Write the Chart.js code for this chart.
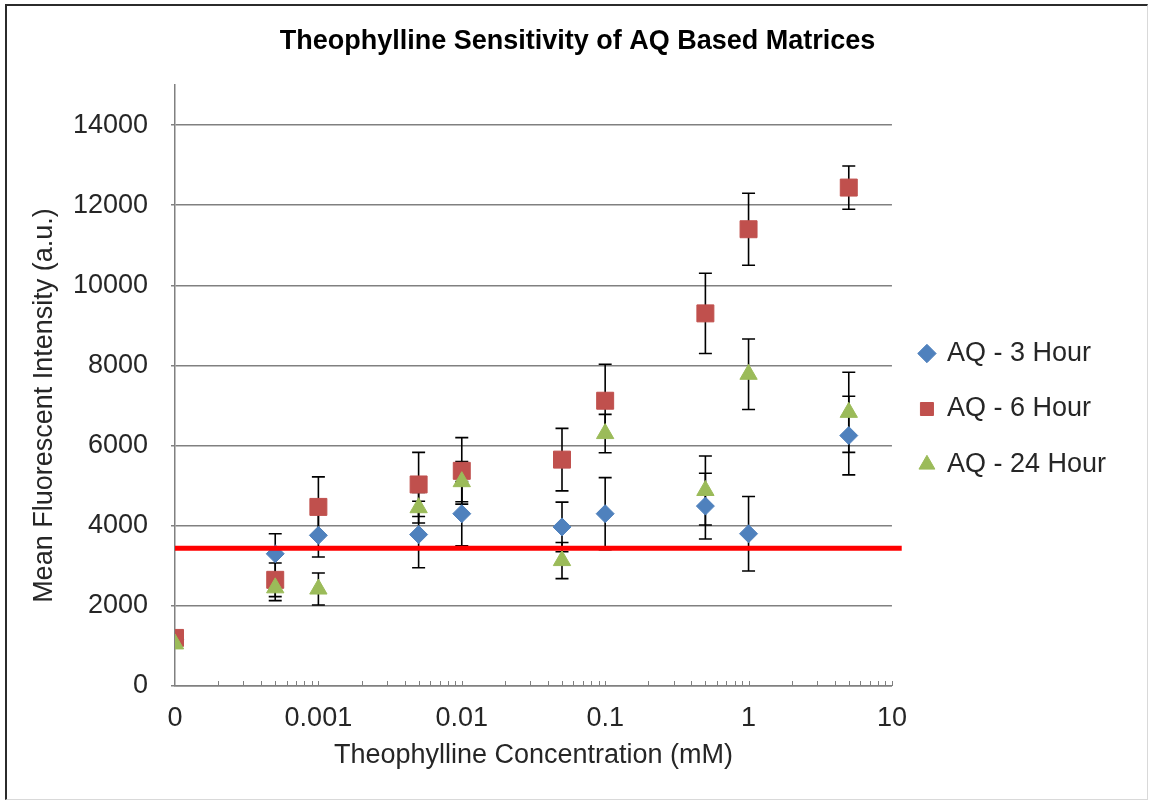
<!DOCTYPE html>
<html><head><meta charset="utf-8">
<script src="https://cdn.jsdelivr.net/npm/chart.js@4.4.1/dist/chart.umd.min.js"></script>
<style>
html,body{margin:0;padding:0;background:#fff;}
#wrap{position:relative;width:1150px;height:801px;overflow:hidden;}
#frame{position:absolute;left:5px;top:4px;width:1140px;height:793px;border-top:2px solid #2b2b2b;border-left:2px solid #2b2b2b;border-right:1px solid #d9d9d9;border-bottom:1px solid #d9d9d9;pointer-events:none;}
canvas{position:absolute;left:0;top:0;}
</style></head><body>
<div id="wrap"><canvas id="c" width="1150" height="801"></canvas><div id="frame"></div></div>
<script>
// ---- data ----
const chartTitle = 'Theophylline Sensitivity of AQ Based Matrices';
const xTitle = 'Theophylline Concentration (mM)';
const yTitle = 'Mean Fluorescent Intensity (a.u.)';
const seriesLabels = ['AQ - 3 Hour', 'AQ - 6 Hour', 'AQ - 24 Hour'];

// 0 is plotted at 0.0001 on the log axis (labelled "0")
const concentrations = [0.0001, 0.0005, 0.001, 0.005, 0.01, 0.05, 0.1, 0.5, 1, 5];

const aq3Hour    = [1150, 3300, 3760, 3780, 4300, 3970, 4300, 4490, 3800, 6250];
const aq3HourErr = [0,    500,  540,  830,  800,  620,  900,  820,  930,  980];

const aq6Hour    = [1200, 2650, 4470, 5030, 5370, 5650, 7120, 9300, 11400, 12440];
const aq6HourErr = [0,    420,  750,  800,  830,  780,  910,  1000, 900,   540];

const aq24Hour    = [1050, 2450, 2420, 4450, 5100, 3130, 6300, 4880, 7780, 6830];
const aq24HourErr = [0,    320,  400,  380,  500,  450,  480,  860,  880,  1000];

// threshold (red line)
const thresholdX = [0.0001, 11.7];
const thresholdY = [3440, 3440];

// axes
const xTickValues = [0.0001, 0.001, 0.01, 0.1, 1, 10];
const xTickLabels = ['0', '0.001', '0.01', '0.1', '1', '10'];
const xMinorMultipliers = [2, 3, 4, 5, 6, 7, 8, 9, 10];
const xDecades = [0.0001, 0.001, 0.01, 0.1, 1];
const yTickValues = [0, 2000, 4000, 6000, 8000, 10000, 12000, 14000];
const yMin = 0, yMax = 15000;

// ---- styling ----
const FONT = '"Liberation Sans", Arial, Helvetica, sans-serif';
const TEXT = '#262626';
const AXIS = '#808080';

function pts(vals) { return concentrations.map((c, i) => ({x: c, y: vals[i]})); }
const errs = [aq3HourErr, aq6HourErr, aq24HourErr];

const errorBars = {
  id: 'errorBars',
  beforeDatasetsDraw(chart) {
    const xs = chart.scales.x, ys = chart.scales.y, c = chart.ctx;
    c.save();
    c.strokeStyle = '#000';
    c.lineWidth = 1.6;
    [aq3Hour, aq6Hour, aq24Hour].forEach((vals, d) => {
      vals.forEach((v, i) => {
        const e = errs[d][i];
        if (!e) return;
        const x = xs.getPixelForValue(concentrations[i]);
        const yt = ys.getPixelForValue(v + e);
        const yb = ys.getPixelForValue(v - e);
        c.beginPath();
        c.moveTo(x, yt); c.lineTo(x, yb);
        c.moveTo(x - 6.5, yt); c.lineTo(x + 6.5, yt);
        c.moveTo(x - 6.5, yb); c.lineTo(x + 6.5, yb);
        c.stroke();
      });
    });
    c.restore();
  }
};

const minorTicks = {
  id: 'minorTicks',
  beforeDatasetsDraw(chart) {
    const xs = chart.scales.x, c = chart.ctx;
    const yb = chart.chartArea.bottom;
    c.save();
    c.strokeStyle = AXIS;
    c.lineWidth = 1;
    c.beginPath();
    xDecades.forEach(d => {
      xMinorMultipliers.forEach(m => {
        const x = Math.round(xs.getPixelForValue(d * m)) + 0.5;
        c.moveTo(x, yb); c.lineTo(x, yb - 5);
      });
    });
    c.stroke();
    c.restore();
  }
};

const yTitlePlugin = {
  id: 'yTitlePlugin',
  afterDraw(chart) {
    const ys = chart.scales.y, c = chart.ctx;
    const cy = (ys.getPixelForValue(yTickValues[0]) + ys.getPixelForValue(yTickValues[yTickValues.length - 1])) / 2;
    const cx = chart.chartArea.left - 130;
    c.save();
    c.translate(cx, cy);
    c.rotate(-Math.PI / 2);
    c.font = '27px ' + FONT;
    c.fillStyle = TEXT;
    c.textAlign = 'center';
    c.textBaseline = 'middle';
    c.fillText(yTitle, 0, 0);
    c.restore();
  }
};

new Chart(document.getElementById('c'), {
  type: 'scatter',
  data: {
    datasets: [
      {label: seriesLabels[0], data: pts(aq3Hour), pointStyle: 'rectRot', pointRadius: 9,
       backgroundColor: '#4F81BD', borderColor: '#4F81BD', borderWidth: 1, order: 2},
      {label: seriesLabels[1], data: pts(aq6Hour), pointStyle: 'rect', pointRadius: 12,
       backgroundColor: '#C0504D', borderColor: '#C0504D', borderWidth: 1, order: 1},
      {label: seriesLabels[2], data: pts(aq24Hour), pointStyle: 'triangle', pointRadius: 10,
       backgroundColor: '#9BBB59', borderColor: '#9BBB59', borderWidth: 1, order: 0},
      {label: 'threshold', type: 'line', data: thresholdX.map((x, i) => ({x, y: thresholdY[i]})),
       borderColor: '#FF0000', borderWidth: 5, pointRadius: 0, fill: false, clip: false, order: -1}
    ]
  },
  options: {
    responsive: false,
    animation: false,
    events: [],
    layout: {padding: {left: 39, right: 34, top: 25, bottom: 8}},
    plugins: {
      title: {display: true, text: chartTitle, color: '#000',
              font: {family: FONT, size: 27, weight: 'bold'}, padding: {top: 0, bottom: 27.6}},
      legend: {position: 'right',
        labels: {usePointStyle: true, boxWidth: 13, boxHeight: 13, padding: 28.5, color: TEXT,
                 font: {family: FONT, size: 27},
                 filter: item => item.datasetIndex < 3,
                 sort: (a, b) => a.datasetIndex - b.datasetIndex}},
      tooltip: {enabled: false}
    },
    scales: {
      x: {type: 'logarithmic', min: xTickValues[0], max: xTickValues[xTickValues.length - 1],
          grid: {display: false, drawTicks: false},
          border: {display: true, color: AXIS, width: 1.5},
          afterBuildTicks: s => { s.ticks = xTickValues.map(v => ({value: v})); },
          ticks: {padding: 16, color: TEXT, font: {family: FONT, size: 27}, autoSkip: false, maxRotation: 0,
                  callback: (v, i) => xTickLabels[i]},
          title: {display: true, text: xTitle, color: TEXT, font: {family: FONT, size: 27},
                  padding: {top: 5.4, bottom: 20.8}},
          afterFit: s => { s.height = 107; }},
      y: {min: yMin, max: yMax,
          grid: {color: AXIS, lineWidth: 1.5, tickLength: 4},
          border: {color: AXIS, width: 1.5},
          afterBuildTicks: s => { s.ticks = yTickValues.map(v => ({value: v})); },
          ticks: {padding: 23, color: TEXT, font: {family: FONT, size: 27},
                  callback: v => String(v)},
          afterFit: s => { s.width = 136; }}
    }
  },
  plugins: [errorBars, minorTicks, yTitlePlugin]
});
</script>
</body></html>
